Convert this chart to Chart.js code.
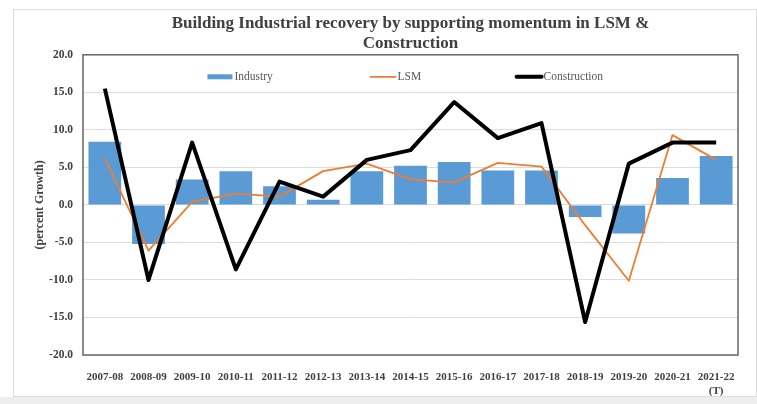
<!DOCTYPE html>
<html>
<head>
<meta charset="utf-8">
<script src="https://cdn.jsdelivr.net/npm/chart.js@4.4.1/dist/chart.umd.min.js"></script>
<style>
	html, body { margin: 0; padding: 0; background: #ffffff; }
	#marco { position: absolute; left: 13px; top: 9px; width: 742px; height: 386px; border: 1px solid #dcdcdc; background: #ffffff; }
	#banda { position: absolute; left: 0; top: 397px; width: 757px; height: 7px; background: #eeeeee; }
</style>
</head>
<body>
<div id="marco"><canvas id="GraficoIndustria"></canvas></div>
<div id="banda"></div>
<script>
// datos del grafico
var categorias = ['2007-08', '2008-09', '2009-10', '2010-11', '2011-12', '2012-13', '2013-14', '2014-15',
	'2015-16', '2016-17', '2017-18', '2018-19', '2019-20', '2020-21', ['2021-22', '(T)']];
var industria = [8.4, -5.2, 3.4, 4.5, 2.5, 0.7, 4.5, 5.2, 5.7, 4.6, 4.6, -1.6, -3.8, 3.6, 6.5];
var lsm = [6.2, -6.1, 0.4, 1.5, 1.1, 4.5, 5.5, 3.4, 3.0, 5.6, 5.1, -2.7, -10.1, 9.3, 6.0];
var construccion = [15.5, -10.0, 8.3, -8.6, 3.1, 1.1, 6.0, 7.3, 13.7, 8.9, 10.9, -15.6, 5.5, 8.3, 8.3];
var nombresSeries = ['Industry', 'LSM', 'Construction'];
var ejeY = { min: -20, max: 20, paso: 5 };

var fuente = "'Liberation Serif', 'Times New Roman', serif";
var colorTexto = '#404040';

// marco oscuro del area del grafico
var pluginMarco = {
	id: 'marcoArea',
	beforeDatasetsDraw: function(chart){
		var a = chart.chartArea, ctx = chart.ctx;
		ctx.save();
		ctx.strokeStyle = '#666666';
		ctx.lineWidth = 1.5;
		ctx.strokeRect(a.left, a.top, a.right - a.left, a.bottom - a.top);
		ctx.restore();
	}
};

// leyenda dentro del area (estilo excel)
var pluginLeyenda = {
	id: 'leyendaArea',
	afterDraw: function(chart){
		var a = chart.chartArea, ctx = chart.ctx;
		var w = a.right - a.left;
		var y = a.top + 22;
		var items = [
			{ x: 0.19, tipo: 'caja', color: '#5B9BD5', grosor: 5 },
			{ x: 0.439, tipo: 'linea', color: '#ED7D31', grosor: 1.8 },
			{ x: 0.662, tipo: 'linea', color: '#000000', grosor: 4 }
		];
		ctx.save();
		ctx.font = "11.5px " + fuente;
		ctx.textBaseline = 'middle';
		items.forEach(function(it, i){
			var x0 = a.left + w * it.x;
			if(it.tipo == 'caja'){
				ctx.fillStyle = it.color;
				ctx.fillRect(x0, y - it.grosor / 2, 25, it.grosor);
			} else {
				ctx.strokeStyle = it.color;
				ctx.lineWidth = it.grosor;
				ctx.lineCap = 'round';
				ctx.beginPath();
				ctx.moveTo(x0, y);
				ctx.lineTo(x0 + 25, y);
				ctx.stroke();
			}
			ctx.fillStyle = '#595959';
			ctx.fillText(nombresSeries[i], x0 + 27, y);
		});
		ctx.restore();
	}
};

var miGrafico = new Chart('GraficoIndustria', {
	type: 'bar',
	data: {
		labels: categorias,
		datasets: [{
			label: nombresSeries[0],
			data: industria,
			backgroundColor: '#5B9BD5',
			borderWidth: 0,
			barPercentage: 0.75,
			categoryPercentage: 1.0,
			order: 2
		}, {
			type: 'line',
			label: nombresSeries[1],
			data: lsm,
			borderColor: '#ED7D31',
			borderWidth: 1.8,
			pointRadius: 0,
			tension: 0,
			borderJoinStyle: 'round',
			order: 1
		}, {
			type: 'line',
			label: nombresSeries[2],
			data: construccion,
			borderColor: '#000000',
			borderWidth: 4,
			pointRadius: 0,
			tension: 0,
			borderJoinStyle: 'round',
			order: 0
		}]
	},
	options: {
		responsive: true,
		maintainAspectRatio: false,
		animation: false,
		layout: { padding: { left: 0, right: 18, top: 0, bottom: 0 } },
		plugins: {
			legend: { display: false },
			tooltip: { enabled: false },
			title: {
				display: true,
				fullSize: false,
				text: ['Building Industrial recovery by supporting momentum in LSM &', 'Construction'],
				color: colorTexto,
				font: { family: fuente, size: 17, weight: 'bold', lineHeight: 1.2 },
				padding: { top: 3, bottom: 1 }
			}
		},
		scales: {
			x: {
				grid: { display: false },
				border: { display: false },
				ticks: {
					color: colorTexto,
					font: { family: fuente, size: 11, weight: 'bold' },
					maxRotation: 0,
					autoSkip: false,
					padding: 8
				},
				afterFit: function(scale){ scale.height = 41; }
			},
			y: {
				min: ejeY.min,
				max: ejeY.max,
				grid: { color: '#dcdcdc', drawTicks: false },
				border: { display: false },
				ticks: {
					stepSize: ejeY.paso,
					color: colorTexto,
					font: { family: fuente, size: 11.5, weight: 'bold' },
					padding: 10,
					callback: function(v){ return v.toFixed(1); }
				},
				title: {
					display: true,
					text: '(percent Growth)',
					color: colorTexto,
					font: { family: fuente, size: 12, weight: 'bold' },
					padding: { top: 19, bottom: 0 }
				},
				afterFit: function(scale){ scale.width = 69; }
			}
		}
	},
	plugins: [pluginMarco, pluginLeyenda]
});
</script>
</body>
</html>
